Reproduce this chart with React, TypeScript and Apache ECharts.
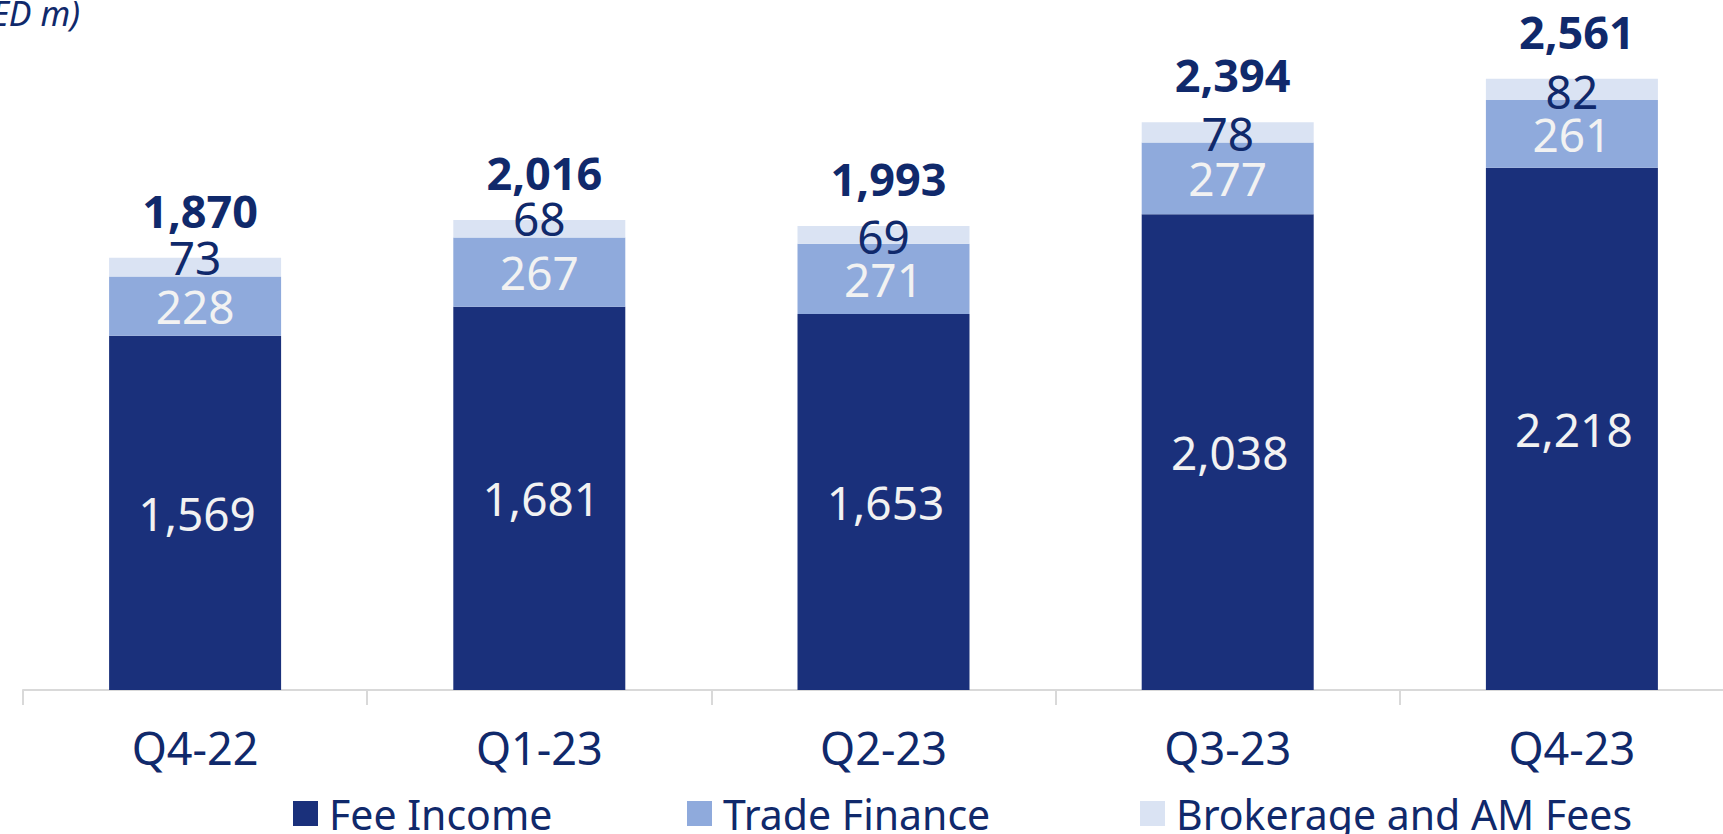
import React, { useEffect, useRef } from "react";
import * as echarts from "echarts";

const categories = ["Q4-22", "Q1-23", "Q2-23", "Q3-23", "Q4-23"];
const feeIncome = [1569, 1681, 1653, 2038, 2218];
const tradeFinance = [228, 267, 271, 277, 261];
const brokerageAM = [73, 68, 69, 78, 82];
const totals = [1870, 2016, 1993, 2394, 2561];
const seriesNames = ["Fee Income", "Trade Finance", "Brokerage and AM Fees"];
const unitLabel = "(AED m)";

const NAVY = "#1a307b";
const MID = "#8faadc";
const LIGHT = "#dae3f3";
const TEXT = "#10296b";
const FONT = "'Noto Sans', Roboto, sans-serif";

const fmt = (v: number) => v.toLocaleString("en-US");

export default function App() {
  const ref = useRef<HTMLDivElement>(null);
  useEffect(() => {
    document.body.style.margin = "0";
    document.body.style.overflow = "hidden";
    if (!ref.current) return;
    const chart = echarts.init(ref.current, undefined, { renderer: "svg" });
    const brokerageOffsets = [-10, -11, 1, 1, 2];
    chart.setOption({
      animation: false,
      backgroundColor: "#ffffff",
      textStyle: { fontFamily: FONT },
      grid: { left: 23, top: 17, height: 673, width: 1721, containLabel: false },
      xAxis: {
        type: "category",
        data: categories,
        axisLine: { show: true, lineStyle: { color: "#d9d9d9", width: 2 } },
        axisTick: { show: true, length: 15, lineStyle: { color: "#d9d9d9", width: 2 } },
        axisLabel: { color: TEXT, fontSize: 45, fontFamily: FONT, margin: 35 },
      },
      yAxis: { type: "value", min: 200, max: 2800, show: false, splitLine: { show: false } },
      legend: seriesNames.map((n, i) => ({
        data: [n],
        left: [293, 687, 1140][i],
        top: 793,
        padding: 0,
        icon: "rect",
        itemWidth: 25,
        itemHeight: 25,
        textStyle: { color: TEXT, fontSize: 41, fontFamily: FONT, padding: [0, 0, 0, 6] },
      })),
      graphic: [
        {
          type: "text",
          x: 80,
          y: 13,
          style: {
            text: unitLabel,
            fill: TEXT,
            align: "right",
            verticalAlign: "middle",
            font: `italic 34px ${FONT}`,
          },
        },
      ],
      series: [
        {
          name: seriesNames[0],
          type: "bar",
          stack: "t",
          barWidth: 172,
          itemStyle: { color: NAVY },
          label: {
            show: true,
            position: "inside",
            offset: [2, 0],
            color: "#f2f2f2",
            fontSize: 46,
            fontFamily: FONT,
            formatter: (p: any) => fmt(p.value),
          },
          data: feeIncome,
        },
        {
          name: seriesNames[1],
          type: "bar",
          stack: "t",
          barWidth: 172,
          itemStyle: { color: MID },
          label: {
            show: true,
            position: "inside",
            color: "#f2f2f2",
            fontSize: 46,
            fontFamily: FONT,
            formatter: (p: any) => fmt(p.value),
          },
          data: tradeFinance,
        },
        {
          name: seriesNames[2],
          type: "bar",
          stack: "t",
          barWidth: 172,
          itemStyle: { color: LIGHT },
          label: {
            show: true,
            position: "inside",
            color: TEXT,
            fontSize: 46,
            fontFamily: FONT,
            formatter: (p: any) => fmt(p.value),
          },
          data: brokerageAM.map((v, i) => ({ value: v, label: { offset: [0, brokerageOffsets[i]] } })),
        },
        {
          name: "Total",
          type: "scatter",
          symbolSize: 0,
          itemStyle: { color: "rgba(0,0,0,0)", opacity: 1 },
          label: {
            show: true,
            position: "top",
            distance: 25,
            offset: [5, 0],
            color: TEXT,
            fontSize: 45,
            lineHeight: 45,
            fontWeight: "bold",
            fontFamily: FONT,
            formatter: (p: any) => fmt(p.value),
          },
          data: totals,
          silent: true,
        },
      ],
    });
    return () => chart.dispose();
  }, []);
  return <div ref={ref} style={{ width: 1760, height: 834 }} />;
}
